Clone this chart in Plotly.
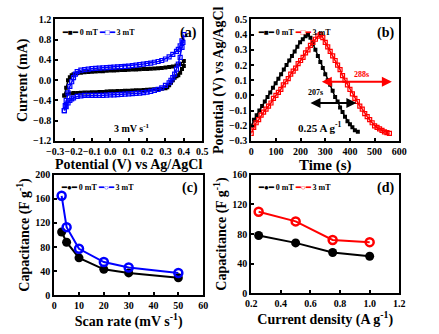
import plotly.graph_objects as go

# ---------------- Data ----------------
# (a) CV at 3 mV/s
cv0_x = [-0.25, -0.24, -0.23, -0.22, -0.21, -0.20, -0.18, -0.16, -0.14, -0.12, -0.10, -0.08, -0.06, -0.04, -0.02,
         0.00, 0.02, 0.04, 0.06, 0.08, 0.10, 0.12, 0.14, 0.16, 0.18, 0.20, 0.22, 0.24, 0.26, 0.28, 0.30, 0.32,
         0.34, 0.36, 0.38, 0.40,
         0.40, 0.39, 0.38, 0.37, 0.36, 0.35, 0.34, 0.33, 0.32, 0.31, 0.30, 0.28, 0.26, 0.24, 0.22, 0.20, 0.18,
         0.16, 0.14, 0.12, 0.10, 0.08, 0.06, 0.04, 0.02, 0.00, -0.02, -0.04, -0.06, -0.08, -0.10, -0.12, -0.14,
         -0.16, -0.18, -0.20, -0.22, -0.24, -0.25]
cv0_y = [-0.30, -0.15, 0.00, 0.06, 0.10, 0.12, 0.14, 0.15, 0.16, 0.165, 0.17, 0.175, 0.18, 0.18, 0.185,
         0.19, 0.19, 0.195, 0.20, 0.20, 0.205, 0.21, 0.21, 0.215, 0.22, 0.22, 0.225, 0.23, 0.235, 0.24, 0.25, 0.26,
         0.27, 0.29, 0.32, 0.38,
         0.28, 0.22, 0.15, 0.10, 0.08, 0.05, 0.00, -0.05, -0.10, -0.14, -0.16, -0.17, -0.175, -0.18, -0.185, -0.19, -0.195,
         -0.20, -0.20, -0.205, -0.21, -0.21, -0.215, -0.215, -0.22, -0.22, -0.225, -0.23, -0.23, -0.235, -0.235, -0.24, -0.24,
         -0.245, -0.25, -0.25, -0.26, -0.28, -0.30]
cv3_x = [-0.25, -0.245, -0.24, -0.23, -0.22, -0.21, -0.20, -0.19, -0.18, -0.16, -0.14, -0.12, -0.10, -0.08, -0.06,
         -0.04, -0.02, 0.00, 0.02, 0.04, 0.06, 0.08, 0.10, 0.12, 0.14, 0.16, 0.18, 0.20, 0.22, 0.24, 0.26, 0.28,
         0.30, 0.32, 0.34, 0.36, 0.37, 0.38, 0.39, 0.40,
         0.395, 0.39, 0.38, 0.37, 0.36, 0.35, 0.34, 0.33, 0.32, 0.30, 0.28, 0.26, 0.24, 0.22, 0.20, 0.18, 0.16,
         0.14, 0.12, 0.10, 0.08, 0.06, 0.04, 0.02, 0.00, -0.02, -0.04, -0.06, -0.08, -0.10, -0.12, -0.14, -0.16,
         -0.18, -0.20, -0.21, -0.22, -0.23, -0.24, -0.25]
cv3_y = [-0.60, -0.50, -0.40, -0.25, -0.12, -0.03, 0.05, 0.12, 0.17, 0.20, 0.21, 0.22, 0.23, 0.235, 0.24,
         0.245, 0.25, 0.255, 0.26, 0.265, 0.27, 0.275, 0.28, 0.29, 0.30, 0.31, 0.32, 0.33, 0.34, 0.355, 0.37, 0.39,
         0.42, 0.46, 0.51, 0.57, 0.61, 0.68, 0.78, 0.90,
         0.75, 0.65, 0.45, 0.32, 0.22, 0.12, 0.05, 0.00, -0.05, -0.10, -0.15, -0.18, -0.20, -0.22, -0.235, -0.245, -0.255,
         -0.26, -0.265, -0.27, -0.275, -0.28, -0.285, -0.29, -0.29, -0.295, -0.30, -0.30, -0.30, -0.30, -0.30, -0.30, -0.31,
         -0.32, -0.35, -0.37, -0.40, -0.45, -0.52, -0.60]

# (b) GCD at 0.25 A/g
gcd0_t = [0, 11, 22, 33, 44, 55, 66, 77, 88, 99, 110, 121, 132, 143, 154, 165, 176, 187, 198, 209, 220, 230,
          240, 250, 260, 270, 280, 290, 300, 310, 320, 330, 340, 350, 360, 370, 380, 390, 400, 410, 420, 432]
gcd0_v = [-0.20, -0.16, -0.13, -0.10, -0.07, -0.04, -0.01, 0.02, 0.05, 0.08, 0.11, 0.14, 0.17, 0.20, 0.23, 0.26,
          0.29, 0.32, 0.35, 0.37, 0.39, 0.40,
          0.38, 0.34, 0.30, 0.26, 0.22, 0.18, 0.14, 0.10, 0.07, 0.03, -0.01, -0.04, -0.08, -0.11, -0.14, -0.17,
          -0.19, -0.21, -0.23, -0.24]
gcd3_t = [0, 10, 20, 30, 40, 50, 60, 70, 80, 90, 100, 110, 120, 130, 140, 150, 160, 170, 180, 190, 200, 210,
          220, 230, 240, 250, 260, 270, 280, 290, 300, 310, 320, 330, 340, 350, 360, 370, 380, 390, 400, 410,
          420, 430, 440, 450, 460, 470, 480, 490, 500, 510, 520, 530, 540, 550, 560]
gcd3_v = [-0.25, -0.21, -0.18, -0.16, -0.13, -0.11, -0.09, -0.07, -0.05, -0.02, 0.00, 0.02, 0.04, 0.07, 0.09,
          0.11, 0.14, 0.16, 0.18, 0.21, 0.23, 0.25, 0.28, 0.30, 0.33, 0.35, 0.37, 0.39, 0.40,
          0.38, 0.35, 0.32, 0.29, 0.26, 0.23, 0.20, 0.17, 0.13, 0.10, 0.07, 0.04, 0.01, -0.02, -0.04, -0.07,
          -0.09, -0.12, -0.14, -0.16, -0.18, -0.20, -0.21, -0.22, -0.23, -0.24, -0.245, -0.25]

# (c) capacitance vs scan rate
scan_rate = [3, 5, 10, 20, 30, 50]
cap_scan_0 = [105, 88, 62, 43, 37, 29]
cap_scan_3 = [165, 113, 77, 55, 46, 37]

# (d) capacitance vs current density
cur_dens = [0.25, 0.5, 0.75, 1.0]
cap_cd_0 = [78, 68, 55, 50]
cap_cd_3 = [110, 97, 72, 69]

# ---------------- Figure ----------------
W, H = 439, 334
FONT = "Liberation Serif"
fig = go.Figure()

def px_dom(a, b, total):
    return [a / total, b / total]

def ydom(top, bottom):
    return [1 - bottom / H, 1 - top / H]

ax_common = dict(showline=True, mirror=True, linewidth=2, linecolor="black", ticks="inside", ticklen=3,
                 tickwidth=1.5, tickcolor="black", showgrid=False, zeroline=False, tickangle=0,
                 tickfont=dict(family=FONT, size=10, color="black", weight="bold"))

def title(t, size=14, standoff=2):
    return dict(text=t, font=dict(family=FONT, size=size, color="black", weight="bold"), standoff=standoff)

# (a)
fig.add_trace(go.Scatter(x=cv0_x, y=cv0_y, mode="lines+markers", line=dict(color="black", width=1.5),
                         marker=dict(symbol="square", size=4, color="black"), xaxis="x", yaxis="y", showlegend=False))
fig.add_trace(go.Scatter(x=cv3_x, y=cv3_y, mode="lines+markers", line=dict(color="blue", width=1.5),
                         marker=dict(symbol="square-open", size=4, color="blue", line=dict(width=1.2)),
                         xaxis="x", yaxis="y", showlegend=False))
# (b)
fig.add_trace(go.Scatter(x=gcd0_t, y=gcd0_v, mode="lines+markers", line=dict(color="black", width=1.5),
                         marker=dict(symbol="square", size=4, color="black"), xaxis="x2", yaxis="y2", showlegend=False))
fig.add_trace(go.Scatter(x=gcd3_t, y=gcd3_v, mode="lines+markers", line=dict(color="red", width=1.5),
                         marker=dict(symbol="square-open", size=4, color="red", line=dict(width=1.2)),
                         xaxis="x2", yaxis="y2", showlegend=False))
# (c)
fig.add_trace(go.Scatter(x=scan_rate, y=cap_scan_0, mode="lines+markers", line=dict(color="black", width=2),
                         marker=dict(symbol="circle", size=9, color="black"), xaxis="x3", yaxis="y3", showlegend=False))
fig.add_trace(go.Scatter(x=scan_rate, y=cap_scan_3, mode="lines+markers", line=dict(color="blue", width=2),
                         marker=dict(symbol="circle-open", size=8, color="blue", line=dict(width=2.5)),
                         xaxis="x3", yaxis="y3", showlegend=False))
# (d)
fig.add_trace(go.Scatter(x=cur_dens, y=cap_cd_0, mode="lines+markers", line=dict(color="black", width=2),
                         marker=dict(symbol="circle", size=9, color="black"), xaxis="x4", yaxis="y4", showlegend=False))
fig.add_trace(go.Scatter(x=cur_dens, y=cap_cd_3, mode="lines+markers", line=dict(color="red", width=2),
                         marker=dict(symbol="circle-open", size=8, color="red", line=dict(width=2.5)),
                         xaxis="x4", yaxis="y4", showlegend=False))

fig.update_layout(
    width=W, height=H, autosize=False, margin=dict(l=0, r=0, t=0, b=0),
    paper_bgcolor="white", plot_bgcolor="white",
    xaxis=dict(ax_common, domain=px_dom(48, 201, W), anchor="y", range=[-0.3, 0.5], dtick=0.1, tickformat=".1f",
               title=title("Potential (V) vs Ag/AgCl")),
    yaxis=dict(ax_common, domain=ydom(14, 140), anchor="x", range=[-1.2, 1.2], dtick=0.4, tickformat=".1f",
               title=title("Current (mA)")),
    xaxis2=dict(ax_common, domain=px_dom(252, 406, W), anchor="y2", range=[0, 600], dtick=100,
                title=title("Time (s)", 15)),
    yaxis2=dict(ax_common, domain=ydom(14, 140), anchor="x2", range=[-0.3, 0.5], dtick=0.1, tickformat=".1f",
                title=title("Potential (V) vs Ag/AgCl")),
    xaxis3=dict(ax_common, domain=px_dom(47, 202, W), anchor="y3", range=[0, 60], dtick=10,
                title=title("Scan rate (mV s<sup>-1</sup>)")),
    yaxis3=dict(ax_common, domain=ydom(175, 300), anchor="x3", range=[0, 200], dtick=40,
                title=title("Capacitance (F g<sup>-1</sup>)")),
    xaxis4=dict(ax_common, domain=px_dom(252, 406, W), anchor="y4", range=[0.2, 1.2], dtick=0.2, tickformat=".1f",
                title=title("Current density (A g<sup>-1</sup>)")),
    yaxis4=dict(ax_common, domain=ydom(175, 298), anchor="x4", range=[0, 160], dtick=40,
                title=title("Capacitance (F g<sup>-1</sup>)")),
)

def ann(text, x, y, xref, yref, size=10, color="black", xanchor="center", yanchor="middle"):
    fig.add_annotation(text=text, x=x, y=y, xref=xref, yref=yref, showarrow=False, xanchor=xanchor, yanchor=yanchor,
                       font=dict(family=FONT, size=size, color=color, weight="bold"))

# panel labels
for i, lab in enumerate(["(a)", "(b)", "(c)", "(d)"]):
    s = "" if i == 0 else str(i + 1)
    ann(lab, 0.98, 0.97, "x%s domain" % s, "y%s domain" % s, size=14, xanchor="right", yanchor="top")

# legends (text-based)
def legend(s, c2, sym0, sym1):
    txt = ("<span style='color:black'>━%s━</span> 0 mT <span style='color:%s'>━%s━</span> 3 mT" % (sym0, c2, sym1))
    ann(txt, 0.03, 0.95, "x%s domain" % s, "y%s domain" % s, size=8, xanchor="left", yanchor="top")

legend("", "blue", "■", "□")
legend("2", "red", "■", "□")
legend("3", "blue", "●", "○")
legend("4", "red", "●", "○")

# (a) text
ann("3 mV s<sup>-1</sup>", 0.12, -0.95, "x", "y", size=10)
# (b) texts and arrows
fig.add_annotation(x=570, y=0.09, ax=280, ay=0.09, xref="x2", yref="y2", axref="x2", ayref="y2", text="",
                   showarrow=True, arrowhead=2, startarrowhead=2, arrowside="end+start", arrowsize=1,
                   arrowwidth=2, arrowcolor="red")
fig.add_annotation(x=426, y=-0.05, ax=234, ay=-0.05, xref="x2", yref="y2", axref="x2", ayref="y2", text="",
                   showarrow=True, arrowhead=2, startarrowhead=2, arrowside="end+start", arrowsize=1,
                   arrowwidth=2, arrowcolor="black")
ann("288s", 448, 0.14, "x2", "y2", size=8, color="red")
ann("207s", 262, 0.02, "x2", "y2", size=8)
ann("0.25 A g<sup>-1</sup>", 278, -0.21, "x2", "y2", size=11)

fig.write_html("out.html")
